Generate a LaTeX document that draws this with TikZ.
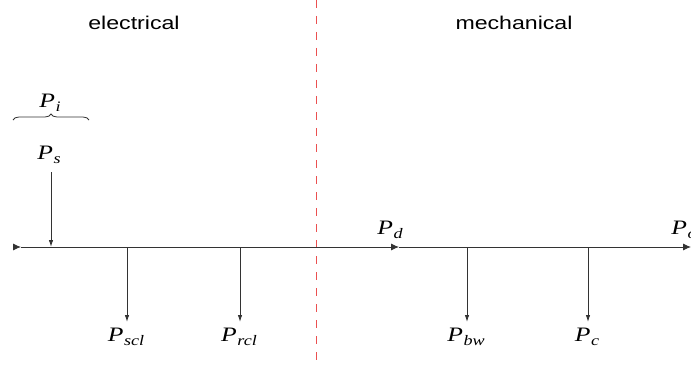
\documentclass[tikz,border=0pt]{standalone}
\usepackage{fontspec}
\setmainfont{Liberation Serif}
\newfontfamily\labelsans{Liberation Sans}
\usetikzlibrary{arrows.meta,decorations.pathreplacing}
\newcommand\Pw[1]{\textit{P}\kern0.5pt\raisebox{-4pt}{\fontsize{14.5}{15}\selectfont\textit{#1}}}
\tikzset{
  txt/.style={inner sep=0pt, xscale=1.25, transform shape, font=\fontsize{20.5}{21}\selectfont},
  stxt/.style={inner sep=0pt, xscale=1.25, transform shape, font=\labelsans\fontsize{18.5}{20}\selectfont},
  flow/.style={draw=black!80, line width=0.9pt, -{Latex[length=8pt,width=7pt]}},
  loss/.style={draw=black!80, line width=0.9pt, -{Latex[length=7pt,width=4.5pt]}},
  divider/.style={draw={rgb,255:red,235;green,80;blue,80}, line width=1pt, dash pattern=on 8pt off 8pt},
}
\begin{document}
\begin{tikzpicture}[x=1pt,y=1pt]
\useasboundingbox (0,0) rectangle (691,365);
% divider
\coordinate (divtop) at (316,365);
\coordinate (divbot) at (316,0);
\draw[divider] (divtop) -- (divbot);
% headings
\node[stxt, anchor=base] (elec) at (134,335) {electrical};
\node[stxt, anchor=base] (mech) at (514,335) {mechanical};
% main line
\coordinate (start) at (13,118);
\coordinate (startm) at (21,118);
\coordinate (s) at (51,118);
\coordinate (scl) at (127,118);
\coordinate (rcl) at (240,118);
\coordinate (d) at (399,118);
\coordinate (bw) at (467,118);
\coordinate (c) at (588,118);
\coordinate (o) at (691,118);
\draw[flow] (start) -- (startm);
\draw[flow] (startm) -- (d);
\draw[flow] (d) -- (o);
% input
\coordinate (stop) at (51,193);
\draw[loss] (stop) -- (s);
\node[txt, anchor=base] (Ps) at (49,206) {\Pw{s}};
\node[txt, anchor=base] (Pi) at (50,258) {\Pw{i}};
\coordinate (bl) at (13,245);
\coordinate (br) at (89,245);
\draw[black!80, line width=0.8pt, decorate, decoration={brace, amplitude=6pt}] (bl) -- (br);
% losses
\coordinate (sclend) at (127,43);
\coordinate (rclend) at (240,43);
\coordinate (bwend) at (467,43);
\coordinate (cend) at (588,43);
\draw[loss] (scl) -- (sclend);
\draw[loss] (rcl) -- (rclend);
\draw[loss] (bw) -- (bwend);
\draw[loss] (c) -- (cend);
\node[txt, anchor=base] (Pscl) at (126,24) {\Pw{scl}};
\node[txt, anchor=base] (Prcl) at (239,24) {\Pw{rcl}};
\node[txt, anchor=base] (Pbw) at (466,24) {\Pw{bw}};
\node[txt, anchor=base] (Pc) at (587,24) {\Pw{c}};
% outputs
\node[txt, anchor=base] (Pd) at (390,131) {\Pw{d}};
\node[txt, anchor=base west] (Po) at (671,131) {\Pw{o}};
\end{tikzpicture}
\end{document}
